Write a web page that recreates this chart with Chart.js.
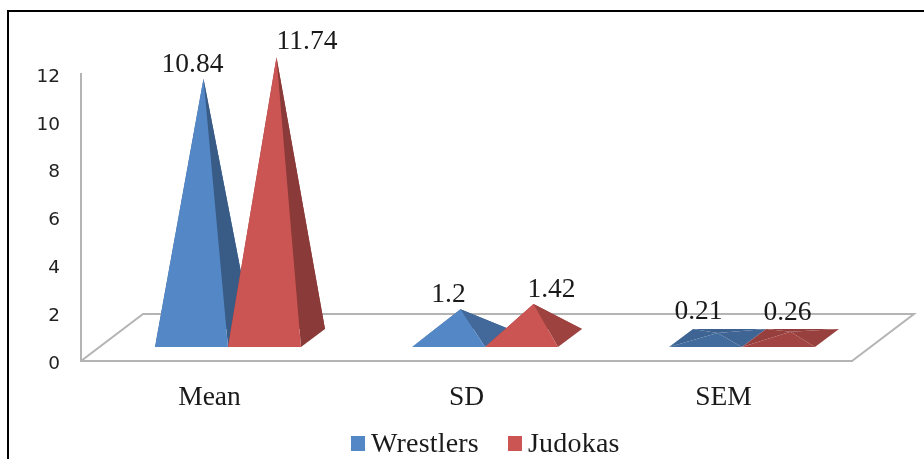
<!DOCTYPE html>
<html>
<head>
<meta charset="utf-8">
<style>
  html,body{margin:0;padding:0;background:#fff;overflow:hidden;}
  #wrap{position:relative;width:924px;height:459px;overflow:hidden;}
  #frame{position:absolute;left:7px;top:10px;width:930px;height:460px;border:solid #000;border-width:2.5px 0 0 2.5px;box-sizing:border-box;}
  canvas{position:absolute;left:0;top:0;filter:blur(.45px);}
</style>
<script src="https://cdn.jsdelivr.net/npm/chart.js@4"></script>
</head>
<body>
<div id="wrap">
  <div id="frame"></div>
  <canvas id="c" width="924" height="459"></canvas>
</div>
<script>
const categories=["Mean","SD","SEM"];
const wrestlers=[10.84,1.2,0.21];
const judokas=[11.74,1.42,0.26];
const yTicks=[0,2,4,6,8,10,12];

const SERIF='"Liberation Serif",serif';
const FLOOR={dx:62,dy:47};      // depth of the floor
const BASE={x:18.5,y:14,dx:24,dy:18}; // where the pyramid feet sit on the floor
// hand-placed data labels in the original (series -> category)
const LABEL_DX=[[1,0,-7],[42.5,30,9]];
const LABEL_DY=[[-14,-15,-21],[-15,-14,-19]];
const BLUE="#5487c6", RED="#cb5552";

function shade(hex,f){
  const n=parseInt(hex.slice(1),16);
  const r=Math.round((n>>16)*f), g=Math.round(((n>>8)&255)*f), b=Math.round((n&255)*f);
  return `rgb(${r},${g},${b})`;
}

function poly(ctx,pts,fill){
  ctx.beginPath();
  pts.forEach((p,i)=>i?ctx.lineTo(p[0],p[1]):ctx.moveTo(p[0],p[1]));
  ctx.closePath();
  ctx.fillStyle=fill;
  ctx.fill();
}

const pyramidPlugin={
  id:"pyramids",
  beforeDatasetsDraw(chart){
    const ctx=chart.ctx, x=chart.scales.x, y=chart.scales.y;
    const zero=y.getPixelForValue(0);

    // floor
    ctx.save();
    ctx.strokeStyle="#b4b4b4";
    ctx.lineWidth=2;
    ctx.beginPath();
    ctx.moveTo(x.left,zero);
    ctx.lineTo(x.left+FLOOR.dx,zero-FLOOR.dy);
    ctx.lineTo(x.right+FLOOR.dx,zero-FLOOR.dy);
    ctx.lineTo(x.right,zero);
    ctx.stroke();
    ctx.restore();

    // pyramids, left to right
    categories.forEach((cat,i)=>{
      chart.data.datasets.forEach((ds,d)=>{
        const bar=chart.getDatasetMeta(d).data[i];
        const l=bar.x-bar.width/2+BASE.x, r=bar.x+bar.width/2+BASE.x;
        const f=zero-BASE.y, b=f-BASE.dy;
        const apexX=(l+r+BASE.dx)/2;
        const apexY=bar.y-BASE.y-BASE.dy/2;
        const h=zero-bar.y;
        const col=ds.backgroundColor;
        const flat=h<15;
        const front=flat?shade(col,.8):col;
        const side=flat?shade(col,.75):(h<60?shade(col,.78):shade(col,.68));
        const apex=[apexX,apexY];
        poly(ctx,[[l+BASE.dx,b],[r+BASE.dx,b],apex],shade(col,.72));
        poly(ctx,[[l,f],[l+BASE.dx,b],apex],shade(col,.74));
        poly(ctx,[[r,f],[r+BASE.dx,b],apex],side);
        poly(ctx,[[l,f],[r,f],apex],front);
      });
    });

    // value labels
    ctx.save();
    ctx.font='27.5px '+SERIF;
    ctx.fillStyle="#1a1a1a";
    ctx.textAlign="center";
    ctx.textBaseline="middle";
    chart.data.datasets.forEach((ds,d)=>{
      chart.getDatasetMeta(d).data.forEach((bar,i)=>{
        const apexY=bar.y-BASE.y-BASE.dy/2;
        ctx.fillText(String(ds.data[i]),bar.x+BASE.x+LABEL_DX[d][i],apexY+LABEL_DY[d][i]);
      });
    });
    ctx.restore();

    // legend
    ctx.save();
    ctx.font='28px '+SERIF;
    ctx.letterSpacing="0.2px";
    ctx.textBaseline="middle";
    ctx.textAlign="left";
    let lx=351;
    chart.data.datasets.forEach(ds=>{
      ctx.fillStyle=ds.backgroundColor;
      ctx.fillRect(lx,436,14,15);
      ctx.fillStyle="#1a1a1a";
      ctx.fillText(ds.label,lx+20,445);
      lx+=157;
    });
    ctx.restore();
    return false; // the pyramids replace the flat bars
  }
};

new Chart(document.getElementById("c"),{
  type:"bar",
  data:{
    labels:categories,
    datasets:[
      {label:"Wrestlers",data:wrestlers,backgroundColor:BLUE},
      {label:"Judokas",data:judokas,backgroundColor:RED}
    ]
  },
  plugins:[pyramidPlugin],
  options:{
    responsive:false,
    animation:false,
    layout:{padding:{left:0,right:72,top:74,bottom:0}},
    categoryPercentage:.568,
    barPercentage:1,
    plugins:{legend:{display:false},tooltip:{enabled:false}},
    scales:{
      x:{
        grid:{display:false,drawTicks:false},
        border:{color:"#b4b4b4",width:2},
        ticks:{color:"#1a1a1a",font:{family:SERIF,size:27.5},padding:20,maxRotation:0},
        afterFit(s){s.height=98;}
      },
      y:{
        min:0,max:12,
        afterBuildTicks(s){s.ticks=yTicks.map(v=>({value:v}));},
        grid:{display:false,drawTicks:false},
        border:{color:"#b4b4b4",width:2},
        ticks:{color:"#222",font:{family:'"DejaVu Sans",sans-serif',size:18.5},padding:21,labelOffset:3},
        afterFit(s){s.width=81;}
      }
    }
  }
});
</script>
</body>
</html>
